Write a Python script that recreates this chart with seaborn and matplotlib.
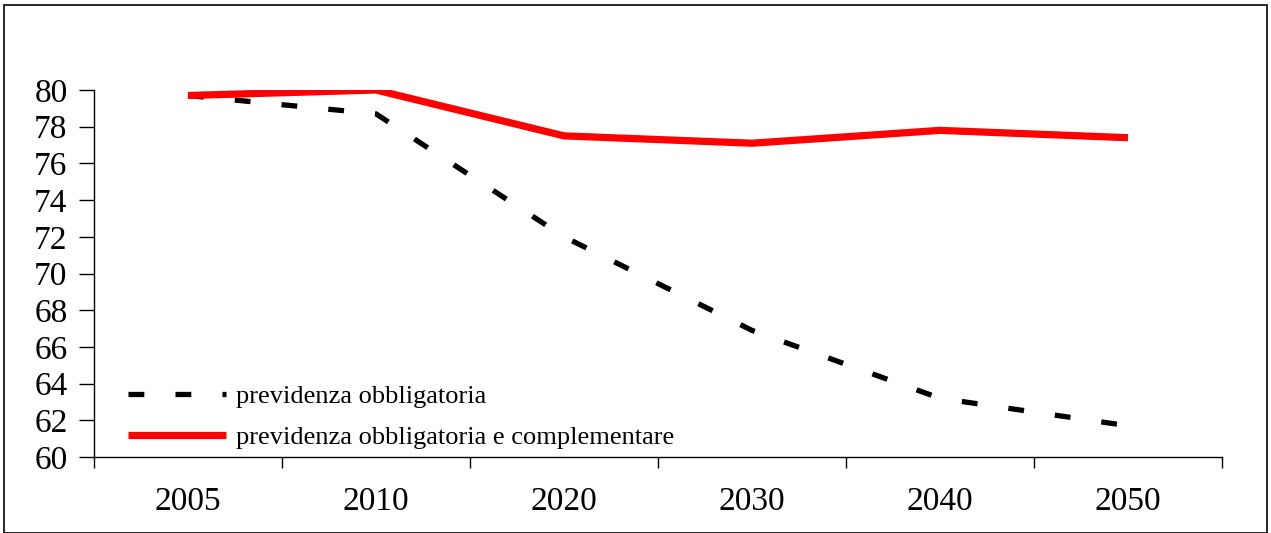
import numpy as np
import pandas as pd
import matplotlib.pyplot as plt
import seaborn as sns
from matplotlib.patches import Rectangle

anni = ["2005", "2010", "2020", "2030", "2040", "2050"]
obbligatoria = [79.7, 78.7, 72.0, 66.9, 63.2, 61.7]
obbl_compl = [79.7, 80.0, 77.5, 77.1, 77.8, 77.4]

sns.set_style("white")
plt.rcParams["font.family"] = ["Liberation Serif", "DejaVu Serif"]
plt.rcParams["text.color"] = "black"
plt.rcParams["xtick.color"] = "black"
plt.rcParams["ytick.color"] = "black"

df = pd.DataFrame({"anno": anni, "obbl": obbligatoria, "compl": obbl_compl})

fig = plt.figure(figsize=(12.71, 5.33), dpi=100)
ax = fig.add_axes([94/1271, 1 - 457/533, (1222-94)/1271, (457-90)/533])

sns.lineplot(data=df, x="anno", y="obbl", ax=ax, color="black", lw=3.8,
             sort=False, label="previdenza obbligatoria")
ax.lines[-1].set_dashes((3.0, 5.9))
ax.lines[-1].set_dash_capstyle("butt")
sns.lineplot(data=df, x="anno", y="compl", ax=ax, color="#ff0000", lw=5.2,
             sort=False, label="previdenza obbligatoria e complementare")
ax.lines[-1].set_solid_capstyle("butt")

ax.set_xlim(-0.5, len(anni) - 0.5)
ax.set_ylim(60, 80)
ax.set_yticks(np.arange(60, 81, 2))
ax.set_xlabel("")
ax.set_ylabel("")
ax.set_xticks(range(len(anni)))
ax.set_xticklabels(anni)
ax.set_xticks(np.arange(-0.5, len(anni), 1), minor=True)
ax.tick_params(axis="x", which="major", length=0, pad=21, labelsize=24)
ax.tick_params(axis="x", which="minor", length=8, width=1, direction="out", bottom=True)
ax.tick_params(axis="y", length=11, width=1, direction="out", left=True, labelsize=24, pad=8)

for s in ["top", "right"]:
    ax.spines[s].set_visible(False)
for s in ["left", "bottom"]:
    ax.spines[s].set_color("black")
    ax.spines[s].set_linewidth(1)

leg = ax.legend(loc="lower left", frameon=False, fontsize=19, handlelength=3.7,
                handletextpad=0.4, labelspacing=0.65, bbox_to_anchor=(0.009, -0.043))
for h in leg.get_lines():
    h.set_solid_capstyle("butt")
    h.set_dash_capstyle("butt")

fig.patches.append(Rectangle((4/1271, 0), 1 - 8/1271, 1 - 5/533, transform=fig.transFigure,
                             fill=False, edgecolor="black", lw=1.2))

fig.savefig("out.png", dpi=100)
